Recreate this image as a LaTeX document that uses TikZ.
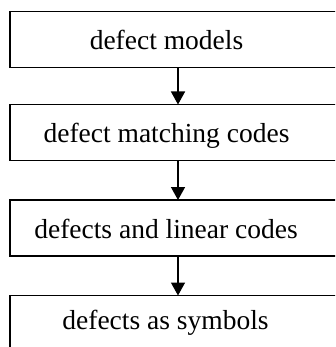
\documentclass[tikz,border=0pt]{standalone}
\usepackage{fontspec}
\setmainfont{Liberation Serif}
\usetikzlibrary{arrows.meta}
\begin{document}
\begin{tikzpicture}[x=1pt,y=-1pt,
  box/.style={draw, line width=1.5pt, minimum width=336pt, minimum height=56pt, inner sep=0pt, outer sep=0pt, anchor=north west},
  lbl/.style={anchor=base, inner sep=0pt, font=\fontsize{27.5}{33}\selectfont},
  arr/.style={-{Triangle[width=14pt,length=13pt]}, line width=1.5pt}]
\useasboundingbox (0,0) rectangle (335,347);
\clip (0,0) rectangle (335,347);
\node[box] (b1) at (10,11.7) {};
\node[box] (b2) at (10,104.5) {};
\node[box] (b3) at (10,200) {};
\node[box] (b4) at (10,295.5) {};
\node[lbl] (t1) at (166.5,49.3) {defect models};
\node[lbl] (t2) at (166.5,143) {defect matching codes};
\node[lbl] (t3) at (166,238) {defects and linear codes};
\node[lbl] (t4) at (165.5,329.5) {defects as symbols};
\draw[arr] (b1.south) -- (b2.north);
\draw[arr] (b2.south) -- (b3.north);
\draw[arr] (b3.south) -- (b4.north);
\end{tikzpicture}
\end{document}
